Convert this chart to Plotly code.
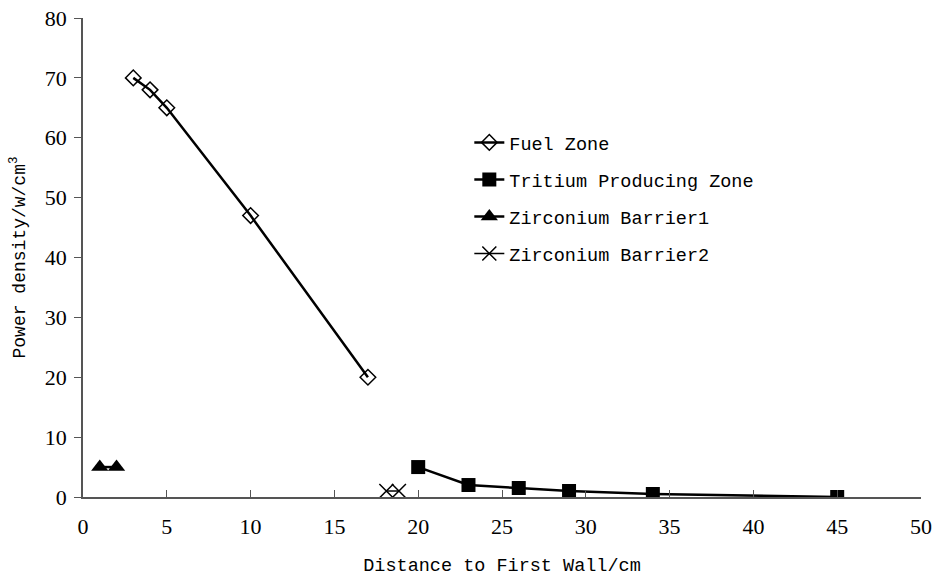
import plotly.graph_objects as go

fuel_x = [3, 4, 5, 10, 17]
fuel_y = [70, 68, 65, 47, 20]
trit_x = [20, 23, 26, 29, 34, 45]
trit_y = [5, 2, 1.5, 1, 0.5, 0]
zr1_x = [1, 2]
zr1_y = [5, 5]
zr2_x = [18.1, 18.85]
zr2_y = [1, 1]

mono = "Liberation Mono"
serif = "Liberation Serif"

fig = go.Figure()
fig.add_trace(go.Scatter(x=fuel_x, y=fuel_y, mode="lines+markers", name="Fuel Zone",
                         legendgroup="a",
                         line=dict(color="black", width=2.5),
                         marker=dict(symbol="diamond-open", size=12, color="black",
                                     line=dict(width=1.5, color="black"))))
fig.add_trace(go.Scatter(x=trit_x, y=trit_y, mode="lines+markers", name="Tritium Producing Zone",
                         legendgroup="b",
                         line=dict(color="black", width=2.5),
                         marker=dict(symbol="square", size=14, color="black")))
fig.add_trace(go.Scatter(x=zr1_x, y=zr1_y, mode="lines+markers", name="Zirconium Barrier1",
                         legendgroup="c",
                         line=dict(color="black", width=2.5),
                         marker=dict(symbol="triangle-up", size=15, color="black")))
fig.add_trace(go.Scatter(x=zr2_x, y=zr2_y, mode="lines+markers", name="Zirconium Barrier2",
                         legendgroup="d",
                         line=dict(color="black", width=1.5),
                         marker=dict(symbol="x-thin", size=14, color="black",
                                     line=dict(width=1.5, color="black"))))

fig.update_layout(
    width=933, height=577,
    margin=dict(l=83, r=12, t=18, b=80),
    plot_bgcolor="white", paper_bgcolor="white",
    font=dict(family=mono, size=18, color="black"),
    legend=dict(x=0.461, y=0.779, xanchor="left", yanchor="top",
                font=dict(family=mono, size=18.5), tracegroupgap=10,
                bgcolor="rgba(0,0,0,0)"),
    showlegend=True,
)
fig.update_xaxes(range=[0, 50], dtick=5, tick0=0, showgrid=False, zeroline=False,
                 showline=True, linecolor="#555555", linewidth=1.5, automargin=False,
                 ticks="inside", ticklen=7, tickcolor="#555555", ticklabelstandoff=9,
                 ticklabeloverflow="allow",
                 tickfont=dict(family=serif, size=22),
                 title=dict(text="Distance to First Wall/cm", font=dict(family=mono, size=18.5),
                            standoff=25))
fig.update_yaxes(range=[0, 80], dtick=10, showgrid=False, zeroline=False,
                 showline=True, linecolor="#555555", linewidth=1.5, automargin=False,
                 ticks="outside", ticklen=7, tickcolor="#555555", ticklabelstandoff=3,
                 ticklabeloverflow="allow",
                 tickfont=dict(family=serif, size=22),
                 title=dict(text="Power density/w/cm<sup>3</sup>", font=dict(family=mono, size=18),
                            standoff=15))

fig.write_html("out.html", config={"displayModeBar": False},
               post_script="document.body.style.margin='0';document.body.style.overflow='hidden';")
